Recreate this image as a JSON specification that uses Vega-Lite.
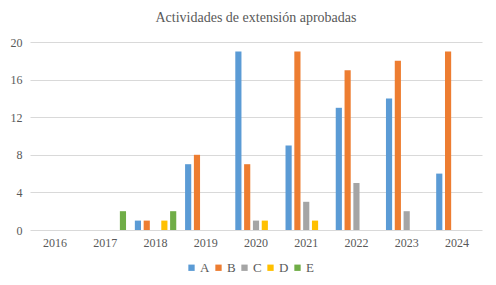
{
  "$schema": "https://vega.github.io/schema/vega-lite/v6.json",
  "width": 452,
  "height": 188,
  "autosize": "none",
  "padding": {"left": 30, "top": 42, "right": 14, "bottom": 55},
  "background": "white",
  "title": {
    "text": "Actividades de extensión aprobadas",
    "font": "Liberation Serif",
    "fontSize": 14,
    "fontWeight": "normal",
    "color": "#595959",
    "anchor": "middle",
    "offset": 11
  },
  "config": {"view": {"stroke": null}},
  "data": {
    "values": [
      {"year": "2017", "series": "E", "value": 2},
      {"year": "2018", "series": "A", "value": 1},
      {"year": "2018", "series": "B", "value": 1},
      {"year": "2018", "series": "D", "value": 1},
      {"year": "2018", "series": "E", "value": 2},
      {"year": "2019", "series": "A", "value": 7},
      {"year": "2019", "series": "B", "value": 8},
      {"year": "2020", "series": "A", "value": 19},
      {"year": "2020", "series": "B", "value": 7},
      {"year": "2020", "series": "C", "value": 1},
      {"year": "2020", "series": "D", "value": 1},
      {"year": "2021", "series": "A", "value": 9},
      {"year": "2021", "series": "B", "value": 19},
      {"year": "2021", "series": "C", "value": 3},
      {"year": "2021", "series": "D", "value": 1},
      {"year": "2022", "series": "A", "value": 13},
      {"year": "2022", "series": "B", "value": 17},
      {"year": "2022", "series": "C", "value": 5},
      {"year": "2023", "series": "A", "value": 14},
      {"year": "2023", "series": "B", "value": 18},
      {"year": "2023", "series": "C", "value": 2},
      {"year": "2024", "series": "A", "value": 6},
      {"year": "2024", "series": "B", "value": 19}
    ]
  },
  "mark": {"type": "bar"},
  "encoding": {
    "x": {
      "field": "year",
      "type": "nominal",
      "scale": {"domain": ["2016","2017","2018","2019","2020","2021","2022","2023","2024"], "paddingInner": 0, "paddingOuter": 0},
      "axis": {
        "title": null,
        "labelAngle": 0,
        "domain": false,
        "ticks": false,
        "labelFont": "Liberation Serif",
        "labelFontSize": 12,
        "labelColor": "#595959",
        "labelPadding": 7
      }
    },
    "xOffset": {
      "field": "series",
      "type": "nominal",
      "scale": {"domain": ["A","B","C","D","E"], "paddingInner": 0.3, "paddingOuter": 0.5}
    },
    "y": {
      "field": "value",
      "type": "quantitative",
      "scale": {"domain": [0, 20], "nice": false},
      "axis": {
        "title": null,
        "values": [0,4,8,12,16,20],
        "domain": false,
        "ticks": false,
        "gridColor": "#d9d9d9",
        "gridWidth": 1,
        "labelFont": "Liberation Serif",
        "labelFontSize": 12,
        "labelColor": "#595959",
        "labelPadding": 8
      }
    },
    "color": {
      "field": "series",
      "type": "nominal",
      "scale": {"domain": ["A","B","C","D","E"], "range": ["#5B9BD5","#ED7D31","#A5A5A5","#FFC000","#70AD47"]},
      "legend": {
        "title": null,
        "orient": "none",
        "legendX": 155,
        "legendY": 219,
        "direction": "horizontal",
        "symbolType": "square",
        "symbolSize": 40,
        "symbolStrokeWidth": 0,
        "labelFont": "Liberation Serif",
        "labelFontSize": 13,
        "labelColor": "#595959",
        "columnPadding": 2,
        "labelOffset": 2
      }
    }
  }
}
